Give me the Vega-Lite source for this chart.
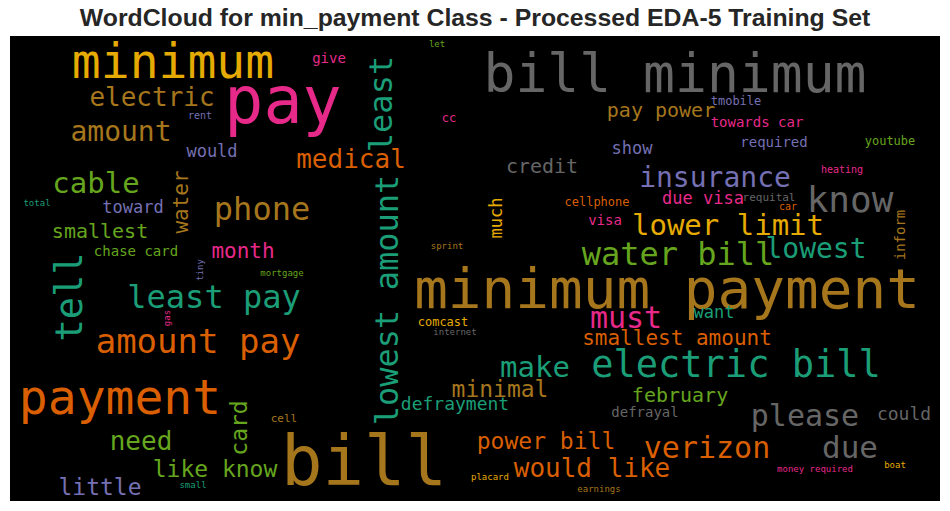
{
  "$schema": "https://vega.github.io/schema/vega-lite/v6.json",
  "autosize": {"type": "none"},
  "width": 930,
  "height": 465,
  "padding": {"left": 10, "right": 10, "top": 36, "bottom": 10},
  "background": "white",
  "title": {"text": "WordCloud for min_payment Class - Processed EDA-5 Training Set", "font": "Liberation Sans", "fontSize": 24.8, "fontWeight": "bold", "color": "#262626", "anchor": "middle", "offset": 5},
  "config": {"view": {"fill": "black", "stroke": null}},
  "data": {"values": [
    {"word": "minimum", "x": 163, "y": 42, "weight": 48, "c": "yellow", "r": "h"},
    {"word": "pay", "x": 273, "y": 87, "weight": 65, "c": "pink", "r": "h"},
    {"word": "electric", "x": 142, "y": 70, "weight": 26, "c": "brown", "r": "h"},
    {"word": "rent", "x": 190, "y": 83, "weight": 10, "c": "purple", "r": "h"},
    {"word": "amount", "x": 111, "y": 105, "weight": 28, "c": "brown", "r": "h"},
    {"word": "would", "x": 202, "y": 121, "weight": 17, "c": "purple", "r": "h"},
    {"word": "cable", "x": 86, "y": 157, "weight": 29, "c": "green", "r": "h"},
    {"word": "give", "x": 319, "y": 27, "weight": 14, "c": "pink", "r": "h"},
    {"word": "let", "x": 427, "y": 11, "weight": 9, "c": "green", "r": "h"},
    {"word": "medical", "x": 341, "y": 132, "weight": 26, "c": "orange", "r": "h"},
    {"word": "cc", "x": 439, "y": 86, "weight": 12, "c": "pink", "r": "h"},
    {"word": "credit", "x": 532, "y": 137, "weight": 20, "c": "gray", "r": "h"},
    {"word": "bill minimum", "x": 665, "y": 56, "weight": 53, "c": "gray", "r": "h"},
    {"word": "pay power", "x": 651, "y": 81, "weight": 20, "c": "brown", "r": "h"},
    {"word": "show", "x": 622, "y": 118, "weight": 17, "c": "purple", "r": "h"},
    {"word": "tmobile", "x": 726, "y": 69, "weight": 12, "c": "purple", "r": "h"},
    {"word": "towards car", "x": 747, "y": 91, "weight": 14, "c": "pink", "r": "h"},
    {"word": "required", "x": 764, "y": 111, "weight": 14, "c": "purple", "r": "h"},
    {"word": "youtube", "x": 880, "y": 109, "weight": 12, "c": "green", "r": "h"},
    {"word": "heating", "x": 832, "y": 137, "weight": 10, "c": "pink", "r": "h"},
    {"word": "insurance", "x": 705, "y": 151, "weight": 28, "c": "purple", "r": "h"},
    {"word": "total", "x": 27, "y": 170, "weight": 9, "c": "teal", "r": "h"},
    {"word": "toward", "x": 123, "y": 177, "weight": 17, "c": "purple", "r": "h"},
    {"word": "phone", "x": 252, "y": 184, "weight": 32, "c": "brown", "r": "h"},
    {"word": "smallest", "x": 90, "y": 202, "weight": 20, "c": "green", "r": "h"},
    {"word": "chase card", "x": 126, "y": 220, "weight": 14, "c": "green", "r": "h"},
    {"word": "month", "x": 233, "y": 222, "weight": 21, "c": "pink", "r": "h"},
    {"word": "mortgage", "x": 272, "y": 240, "weight": 9, "c": "green", "r": "h"},
    {"word": "least pay", "x": 204, "y": 272, "weight": 32, "c": "teal", "r": "h"},
    {"word": "amount pay", "x": 188, "y": 317, "weight": 34, "c": "orange", "r": "h"},
    {"word": "payment", "x": 110, "y": 378, "weight": 48, "c": "orange", "r": "h"},
    {"word": "cell", "x": 274, "y": 386, "weight": 11, "c": "brown", "r": "h"},
    {"word": "need", "x": 131, "y": 414, "weight": 26, "c": "green", "r": "h"},
    {"word": "like know", "x": 205, "y": 441, "weight": 23, "c": "green", "r": "h"},
    {"word": "little", "x": 90, "y": 459, "weight": 23, "c": "purple", "r": "h"},
    {"word": "small", "x": 183, "y": 452, "weight": 9, "c": "teal", "r": "h"},
    {"word": "make", "x": 525, "y": 341, "weight": 29, "c": "teal", "r": "h"},
    {"word": "electric bill", "x": 726, "y": 341, "weight": 37, "c": "teal", "r": "h"},
    {"word": "smallest amount", "x": 667, "y": 309, "weight": 21, "c": "orange", "r": "h"},
    {"word": "minimal", "x": 490, "y": 361, "weight": 23, "c": "brown", "r": "h"},
    {"word": "defrayment", "x": 445, "y": 374, "weight": 18, "c": "teal", "r": "h"},
    {"word": "bill", "x": 354, "y": 449, "weight": 69, "c": "brown", "r": "h"},
    {"word": "power bill", "x": 536, "y": 413, "weight": 23, "c": "orange", "r": "h"},
    {"word": "placard", "x": 480, "y": 444, "weight": 9, "c": "yellow", "r": "h"},
    {"word": "would like", "x": 582, "y": 441, "weight": 26, "c": "orange", "r": "h"},
    {"word": "earnings", "x": 589, "y": 456, "weight": 9, "c": "brown", "r": "h"},
    {"word": "february", "x": 670, "y": 366, "weight": 20, "c": "green", "r": "h"},
    {"word": "defrayal", "x": 635, "y": 381, "weight": 14, "c": "gray", "r": "h"},
    {"word": "please", "x": 795, "y": 390, "weight": 30, "c": "gray", "r": "h"},
    {"word": "could", "x": 894, "y": 384, "weight": 18, "c": "gray", "r": "h"},
    {"word": "verizon", "x": 697, "y": 422, "weight": 30, "c": "orange", "r": "h"},
    {"word": "due", "x": 840, "y": 422, "weight": 31, "c": "gray", "r": "h"},
    {"word": "money required", "x": 805, "y": 436, "weight": 9, "c": "pink", "r": "h"},
    {"word": "boat", "x": 885, "y": 432, "weight": 9, "c": "yellow", "r": "h"},
    {"word": "cellphone", "x": 587, "y": 170, "weight": 12, "c": "orange", "r": "h"},
    {"word": "visa", "x": 595, "y": 189, "weight": 14, "c": "pink", "r": "h"},
    {"word": "sprint", "x": 437, "y": 213, "weight": 9, "c": "brown", "r": "h"},
    {"word": "comcast", "x": 433, "y": 290, "weight": 12, "c": "yellow", "r": "h"},
    {"word": "internet", "x": 445, "y": 299, "weight": 9, "c": "gray", "r": "h"},
    {"word": "water bill", "x": 668, "y": 229, "weight": 32, "c": "green", "r": "h"},
    {"word": "minimum payment", "x": 657, "y": 272, "weight": 56, "c": "brown", "r": "h"},
    {"word": "must", "x": 616, "y": 292, "weight": 30, "c": "pink", "r": "h"},
    {"word": "want", "x": 704, "y": 282, "weight": 17, "c": "teal", "r": "h"},
    {"word": "due visa", "x": 693, "y": 168, "weight": 17, "c": "pink", "r": "h"},
    {"word": "requital", "x": 759, "y": 165, "weight": 11, "c": "gray", "r": "h"},
    {"word": "car", "x": 778, "y": 174, "weight": 10, "c": "orange", "r": "h"},
    {"word": "know", "x": 840, "y": 176, "weight": 36, "c": "gray", "r": "h"},
    {"word": "lower limit", "x": 718, "y": 199, "weight": 29, "c": "yellow", "r": "h"},
    {"word": "lowest", "x": 806, "y": 222, "weight": 28, "c": "teal", "r": "h"},
    {"word": "least", "x": 382, "y": 68, "weight": 32, "c": "teal", "r": "v"},
    {"word": "water", "x": 178, "y": 166, "weight": 21, "c": "brown", "r": "v"},
    {"word": "tiny", "x": 193, "y": 234, "weight": 9, "c": "purple", "r": "v"},
    {"word": "tell", "x": 72, "y": 261, "weight": 37, "c": "teal", "r": "v"},
    {"word": "gas", "x": 160, "y": 282, "weight": 9, "c": "pink", "r": "v"},
    {"word": "card", "x": 237, "y": 392, "weight": 23, "c": "green", "r": "v"},
    {"word": "lowest amount", "x": 388, "y": 264, "weight": 32, "c": "teal", "r": "v"},
    {"word": "much", "x": 492, "y": 182, "weight": 17, "c": "yellow", "r": "v"},
    {"word": "inform", "x": 895, "y": 199, "weight": 14, "c": "brown", "r": "v"}
  ]},
  "mark": {"type": "text", "font": "DejaVu Sans Mono", "align": "center", "baseline": "alphabetic"},
  "encoding": {
    "x": {"field": "x", "type": "quantitative", "scale": {"domain": [0, 930]}, "axis": null},
    "y": {"field": "y", "type": "quantitative", "scale": {"domain": [0, 465], "reverse": true}, "axis": null},
    "text": {"field": "word", "type": "nominal"},
    "size": {"field": "weight", "type": "quantitative", "scale": {"type": "linear", "domain": [0, 100], "range": [0, 100]}, "legend": null},
    "angle": {"field": "r", "type": "nominal", "scale": {"domain": ["h", "v"], "range": [0, 270]}, "legend": null},
    "color": {"field": "c", "type": "nominal", "scale": {"domain": ["teal", "orange", "purple", "pink", "green", "yellow", "brown", "gray"], "range": ["#1b9e77", "#d95f02", "#7570b3", "#e7298a", "#66a61e", "#e6ab02", "#a6761d", "#666666"]}, "legend": null}
  }
}
